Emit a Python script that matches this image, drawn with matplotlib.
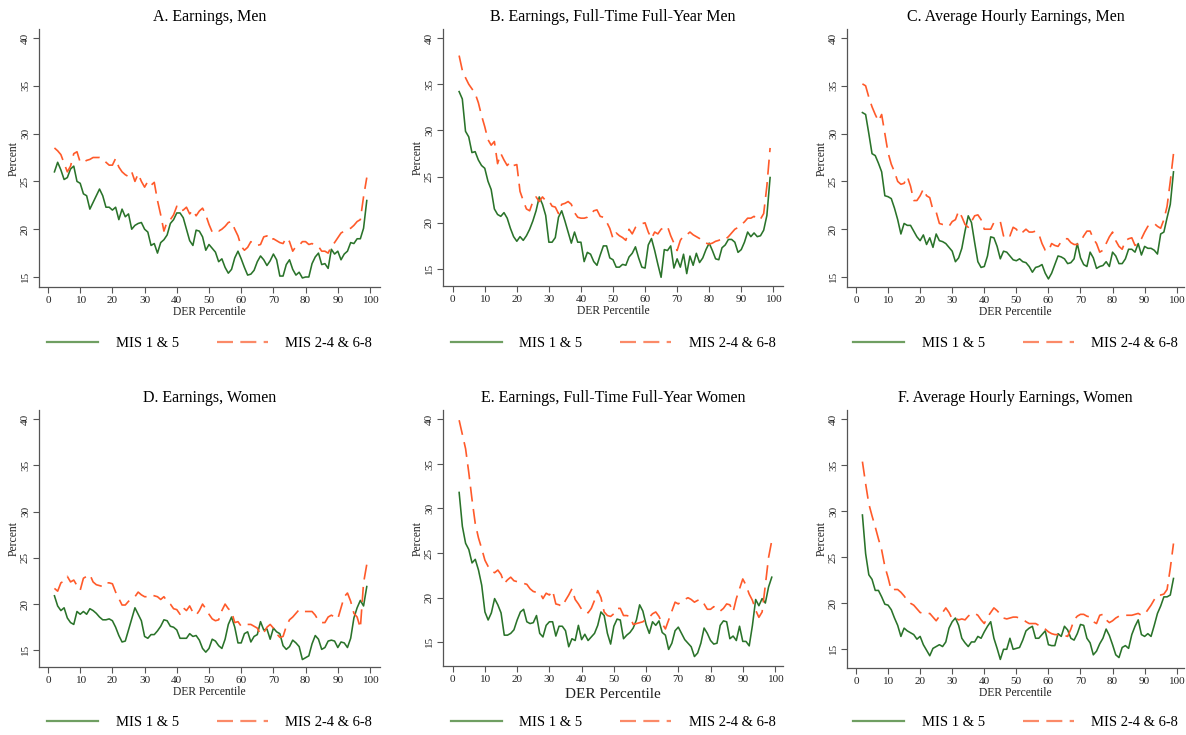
import numpy as np
import matplotlib
matplotlib.use('Agg')
import matplotlib.pyplot as plt
from matplotlib.lines import Line2D

plt.rcParams['font.family'] = ['Liberation Serif', 'DejaVu Serif']

pct = list(range(2, 100))

titles = ["A. Earnings, Men", "B. Earnings, Full-Time Full-Year Men",
          "C. Average Hourly Earnings, Men", "D. Earnings, Women",
          "E. Earnings, Full-Time Full-Year Women",
          "F. Average Hourly Earnings, Women"]
label_a = "MIS 1 & 5"
label_b = "MIS 2-4 & 6-8"
x_ticks = [0, 10, 20, 30, 40, 50, 60, 70, 80, 90, 100]
y_ticks = [15, 20, 25, 30, 35, 40]

a_mis15 = [26.0, 27.0, 26.2, 25.2, 25.4, 26.3, 26.6, 25.0,
           24.8, 23.7, 23.5, 22.1, 22.8, 23.5, 24.2, 23.5, 22.3, 22.3,
           22.0, 22.3, 21.0, 22.1, 21.3, 21.6, 20.0, 20.4, 20.6, 20.7,
           20.0, 19.7, 18.3, 18.5, 17.5, 18.6, 18.9, 19.4, 20.6, 21.0,
           21.7, 21.7, 21.2, 20.0, 18.8, 18.3, 19.9, 19.8, 19.2, 17.8,
           18.4, 18.0, 17.6, 16.6, 16.9, 16.0, 15.4, 15.8, 17.0, 17.7,
           16.9, 16.0, 15.2, 15.3, 15.7, 16.6, 17.2, 16.8, 16.2, 16.7,
           17.4, 16.8, 15.1, 15.1, 16.3, 16.8, 15.8, 15.2, 15.5, 14.9,
           15.0, 15.0, 16.4, 17.1, 17.5, 16.3, 16.4, 15.9, 17.9, 17.4,
           17.7, 16.8, 17.4, 17.7, 18.6, 18.5, 19.0, 19.0, 20.1, 23.0]
a_mis24 = [28.5, 28.2, 27.8, 26.9, 26.0, 26.6, 27.9, 28.1,
           27.0, 27.0, 27.2, 27.3, 27.5, 27.5, 27.5, 27.4, 27.0, 26.7,
           26.7, 27.4, 26.5, 26.0, 25.7, 25.5, 26.0, 25.0, 25.8, 25.0,
           24.4, 25.0, 24.6, 24.9, 23.0, 21.5, 19.8, 20.8, 21.0, 21.5,
           22.4, 21.9, 22.0, 22.3, 21.6, 22.0, 21.4, 21.9, 22.2, 21.5,
           20.5, 19.7, 19.9, 19.8, 20.0, 20.3, 20.7, 20.8, 20.0, 19.3,
           18.2, 17.8, 18.1, 18.7, 18.4, 18.3, 18.4, 19.2, 19.3, 18.8,
           19.0, 18.8, 18.6, 18.5, 19.1, 18.7, 17.7, 18.2, 18.3, 18.7,
           18.7, 18.4, 18.5, 18.3, 18.2, 17.7, 17.7, 17.5, 18.2, 18.6,
           19.1, 19.6, 19.8, 20.0, 20.1, 20.4, 20.8, 21.0, 23.4, 25.4]

b_mis15 = [34.2, 33.4, 29.9, 29.3, 27.6, 27.7, 26.8, 26.2,
           25.9, 24.5, 23.6, 21.5, 20.9, 20.7, 21.1, 20.5, 19.4, 18.5,
           18.0, 18.5, 18.1, 18.6, 19.3, 20.2, 21.3, 22.8, 22.0, 20.8,
           17.9, 17.9, 18.4, 20.6, 21.3, 20.2, 19.0, 17.8, 19.0, 17.9,
           17.9, 15.8, 16.8, 16.6, 15.8, 15.4, 16.5, 17.5, 17.5, 16.2,
           16.0, 15.2, 15.2, 15.5, 15.4, 16.3, 16.7, 17.4, 16.2, 15.2,
           15.1, 17.6, 18.3, 17.0, 15.5, 14.1, 17.1, 17.0, 17.5, 15.1,
           16.1, 15.2, 16.6, 14.5, 16.4, 15.4, 16.7, 15.7, 16.2, 17.1,
           17.8, 17.0, 16.1, 16.0, 17.3, 17.6, 18.2, 18.2, 17.9, 16.8,
           17.1, 17.9, 19.0, 18.5, 18.9, 18.5, 18.6, 19.2, 20.8, 24.9]
b_mis24 = [38.1, 36.5, 35.7, 35.0, 34.5, 34.0, 33.0, 31.6,
           30.4, 29.0, 28.4, 28.8, 26.4, 27.5, 26.8, 26.2, 26.6, 26.2,
           26.3, 23.4, 22.4, 21.5, 21.3, 22.3, 22.8, 22.3, 22.8, 22.4,
           22.4, 21.8, 21.7, 21.0, 22.0, 22.1, 22.3, 22.0, 21.1, 20.6,
           20.5, 20.5, 20.6, 20.9, 21.3, 21.4, 20.7, 20.6, 20.1, 19.4,
           18.3, 18.9, 18.6, 18.4, 18.1, 19.3, 18.8, 19.5, 19.7, 19.9,
           20.0, 19.0, 18.3, 19.0, 18.8, 19.3, 19.5, 19.6, 18.6, 17.8,
           17.0, 18.1, 18.6, 18.7, 19.0, 18.7, 18.5, 18.3, 18.0, 17.8,
           17.7, 17.8, 18.0, 18.1, 18.3, 18.2, 18.5, 18.9, 19.3, 19.5,
           19.8, 20.1, 20.5, 20.5, 20.7, 20.3, 20.4, 21.0, 24.0, 28.1]

c_mis15 = [32.2, 32.0, 30.0, 27.9, 27.7, 26.9, 26.0, 23.5,
           23.4, 23.2, 22.2, 21.0, 19.5, 20.6, 20.4, 20.4, 19.8, 19.2,
           18.8, 19.4, 18.4, 19.1, 18.1, 19.5, 18.8, 18.7, 18.5, 18.1,
           17.7, 16.6, 17.0, 18.0, 19.8, 21.4, 20.7, 18.6, 16.6, 16.0,
           16.1, 17.2, 19.2, 19.1, 18.2, 16.9, 17.7, 17.6, 17.2, 16.8,
           16.7, 16.9, 16.6, 16.5, 16.1, 15.5, 16.0, 16.1, 16.3, 15.4,
           14.8, 15.4, 16.3, 17.2, 17.1, 16.9, 16.4, 16.5, 16.9, 18.5,
           17.0, 16.3, 16.1, 17.6, 17.0, 15.9, 16.1, 16.2, 16.6, 16.1,
           17.6, 17.2, 16.4, 16.4, 16.9, 17.9, 17.9, 17.6, 18.5, 17.3,
           18.2, 18.0, 18.0, 17.8, 17.4, 19.5, 19.7, 21.2, 22.6, 26.0]
c_mis24 = [35.2, 35.0, 33.8, 32.8, 32.0, 31.3, 32.0, 30.0,
           28.0, 26.8, 26.0, 25.0, 24.7, 24.8, 25.5, 24.5, 23.0, 23.0,
           23.5, 24.2, 23.5, 23.3, 22.0, 21.8, 20.6, 20.5, 20.5, 20.3,
           20.8, 21.0, 21.9, 21.3, 20.5, 20.2, 20.8, 21.4, 21.5, 21.0,
           20.0, 20.0, 20.0, 20.7, 20.7, 20.8, 19.3, 19.6, 19.3, 20.2,
           20.0, 19.5, 19.7, 20.0, 19.7, 19.7, 19.8, 19.5, 18.5, 17.8,
           17.7, 18.5, 18.3, 18.2, 18.7, 19.0, 19.0, 18.6, 18.4, 18.4,
           18.7, 19.3, 19.8, 19.8, 19.0, 18.5, 17.6, 17.8, 18.5, 19.2,
           19.7, 18.8, 18.2, 17.9, 18.8, 19.0, 19.1, 18.3, 18.5, 19.0,
           19.7, 20.3, 20.5, 20.6, 20.3, 20.1, 21.0, 22.4, 25.0, 27.9]

d_mis15 = [20.9, 19.8, 19.3, 19.6, 18.5, 18.0, 17.8, 19.2,
           18.9, 19.2, 18.9, 19.5, 19.3, 19.0, 18.6, 18.3, 18.3, 18.4,
           18.2, 17.5, 16.6, 15.9, 16.0, 17.2, 18.4, 19.6, 18.9, 18.2,
           16.5, 16.3, 16.7, 16.7, 17.1, 17.6, 18.3, 18.2, 17.6, 17.5,
           17.2, 16.3, 16.3, 16.3, 16.8, 16.5, 16.6, 16.1, 15.2, 14.8,
           15.2, 16.2, 16.0, 15.5, 15.2, 16.2, 17.8, 18.6, 17.5, 15.8,
           15.8, 16.8, 17.0, 15.9, 16.5, 16.7, 18.1, 17.2, 17.3, 16.2,
           17.4, 17.0, 16.8, 15.5, 15.1, 15.4, 16.1, 15.8, 15.4, 14.0,
           14.2, 14.4, 15.7, 16.6, 16.2, 15.1, 15.3, 16.0, 16.1, 16.0,
           15.3, 15.9, 15.8, 15.3, 16.3, 18.5, 19.6, 20.4, 19.8, 21.9]
d_mis24 = [21.7, 21.4, 22.3, 22.5, 23.0, 22.4, 22.6, 22.0,
           21.5, 22.8, 23.0, 23.2, 22.4, 22.1, 22.0, 21.9, 22.3, 22.3,
           22.2, 21.3, 20.6, 19.9, 19.9, 20.3, 20.6, 20.8, 21.3, 21.0,
           20.8, 20.8, 21.0, 20.9, 20.8, 20.5, 20.8, 20.3, 20.0, 19.5,
           19.4, 18.9, 19.6, 19.3, 19.8, 19.1, 18.8, 19.3, 20.0, 19.5,
           18.9, 18.4, 18.2, 18.3, 19.3, 20.0, 19.5, 19.2, 18.0, 18.1,
           17.6, 17.7, 17.8, 17.8, 17.6, 17.4, 16.7, 16.9, 17.5, 17.8,
           17.4, 16.8, 16.4, 16.5, 17.6, 18.3, 18.6, 19.0, 19.4, 19.2,
           19.2, 19.2, 19.2, 18.8, 18.2, 18.0, 18.0, 18.6, 18.8, 18.6,
           18.4, 19.6, 20.8, 21.2, 20.3, 19.0, 18.6, 17.4, 22.3, 24.3]

e_mis15 = [31.8, 28.0, 26.1, 25.4, 23.9, 24.3, 23.1, 21.4,
           18.4, 17.5, 18.3, 19.9, 19.2, 18.3, 15.8, 15.8, 16.0, 16.4,
           17.5, 18.4, 18.7, 17.3, 17.1, 17.2, 18.0, 16.0, 15.6, 16.9,
           17.3, 17.3, 15.7, 16.8, 16.8, 16.3, 14.5, 15.4, 15.2, 16.9,
           15.3, 15.9, 15.2, 15.6, 16.0, 16.9, 18.4, 18.0, 16.0, 14.8,
           16.8, 17.6, 17.5, 15.4, 15.8, 16.1, 16.6, 17.5, 19.2, 18.5,
           17.0, 16.0, 17.3, 16.9, 17.4, 16.1, 15.8, 14.2, 14.9, 16.3,
           16.7, 16.0, 15.3, 14.9, 14.5, 13.4, 13.8, 14.9, 16.6, 16.0,
           15.2, 14.8, 14.9, 16.9, 17.4, 17.3, 15.4, 15.7, 15.2, 16.8,
           15.1, 15.1, 14.6, 16.9, 19.8, 19.1, 19.9, 19.4, 21.2, 22.3]
e_mis24 = [39.9, 38.3, 36.7, 34.0, 31.0, 28.3, 26.7, 25.5,
           24.2, 23.5, 23.0, 22.8, 23.1, 22.6, 21.6, 22.0, 22.3, 21.9,
           21.8, 21.7, 21.6, 21.5, 21.0, 20.7, 20.6, 20.6, 19.9, 20.5,
           20.3, 20.8, 19.3, 19.2, 19.0, 19.7, 20.3, 21.0, 19.8, 19.3,
           18.7, 18.7, 18.3, 18.8, 19.7, 20.8, 20.0, 18.4, 18.0, 17.9,
           18.2, 18.8, 18.8, 18.0, 18.0, 17.9, 17.0, 17.1, 17.2, 17.3,
           17.6, 17.8, 18.2, 18.4, 17.9, 17.1, 16.5, 17.5, 18.5, 19.5,
           19.3, 19.6, 19.8, 20.0, 19.8, 19.5, 19.7, 19.8, 19.3, 18.7,
           18.7, 19.0, 18.6, 18.5, 18.8, 19.3, 19.2, 18.4, 19.9, 21.0,
           22.1, 21.4, 20.4, 19.7, 18.6, 17.8, 18.4, 21.4, 24.5, 26.4]

f_mis15 = [29.6, 25.4, 23.1, 22.6, 21.4, 21.4, 20.7, 19.9,
           19.8, 19.3, 18.4, 17.6, 16.4, 17.3, 17.0, 16.8, 16.6, 16.1,
           16.4, 15.5, 14.9, 14.3, 15.1, 15.3, 15.5, 15.3, 15.8, 17.3,
           18.0, 18.4, 17.6, 16.2, 15.7, 15.3, 15.8, 15.8, 16.4, 16.2,
           16.9, 17.5, 18.0, 16.2, 15.1, 13.9, 15.0, 15.0, 16.2, 15.0,
           15.1, 15.2, 16.0, 17.0, 17.3, 17.5, 16.2, 16.2, 16.6, 17.0,
           15.5, 15.4, 15.4, 16.7, 16.4, 17.5, 17.1, 16.2, 16.0, 16.7,
           17.7, 17.6, 16.2, 15.7, 14.4, 14.8, 15.6, 16.2, 17.2, 16.5,
           15.5, 14.4, 14.1, 15.2, 15.4, 15.1, 16.6, 17.5, 18.2, 16.6,
           16.4, 16.7, 16.4, 17.6, 18.9, 19.7, 20.7, 20.7, 20.9, 22.7]
f_mis24 = [35.4, 33.0, 30.8, 29.5, 28.3, 27.0, 25.8, 24.0,
           22.8, 21.4, 21.5, 21.5, 21.2, 20.8, 20.3, 20.0, 19.8, 19.4,
           19.0, 18.9, 18.8, 18.9, 18.5, 18.1, 18.6, 19.0, 19.5, 19.0,
           18.3, 18.4, 18.2, 18.3, 18.2, 18.6, 18.9, 18.9, 18.7, 18.2,
           17.8, 18.5, 19.0, 19.5, 19.2, 18.8, 18.4, 18.3, 18.4, 18.5,
           18.5, 18.4, 18.3, 18.0, 17.8, 17.8, 17.8, 17.6, 17.5, 17.2,
           16.9, 16.7, 16.6, 16.6, 16.6, 16.5, 16.4, 17.2, 18.2, 18.6,
           18.8, 18.8, 18.6, 18.5, 18.0, 17.8, 18.7, 18.8, 18.2, 17.9,
           18.1, 18.4, 18.6, 18.7, 18.7, 18.7, 18.7, 18.8, 18.9, 18.7,
           18.8, 19.3, 19.8, 20.4, 20.9, 20.9, 21.0, 21.5, 23.8, 26.5]

series15 = [a_mis15, b_mis15, c_mis15, d_mis15, e_mis15, f_mis15]
series24 = [a_mis24, b_mis24, c_mis24, d_mis24, e_mis24, f_mis24]

GREEN = '#2a732a'
ORANGE = '#ff5a2a'
GREEN_LEG = '#6f9f62'
ORANGE_LEG = '#fb8a68'
SPINE = '#555555'

W, H = 1186, 735
fig = plt.figure(figsize=(W / 100, H / 100), dpi=100)

# pixel layout: left, right, top, bottom, px of x=0, px of x=100, px of y=40, px of y=15
layout = [
    (39, 380, 29, 287, 48, 370, 38, 277),
    (443, 783, 29, 286, 452.7, 773.3, 38, 269),
    (847, 1184, 29, 287, 856, 1176.7, 38, 277),
    (39, 380, 410, 667, 48, 370, 419.3, 650.3),
    (443, 783, 410, 666, 452.7, 775, 419.3, 642.3),
    (847, 1184, 410, 668, 856, 1176.7, 419.3, 649.3),
]
legend_y = [343, 343, 343, 722, 722, 722]

for i, (l, r, t, b, x0, x100, y40, y15) in enumerate(layout):
    ax = fig.add_axes([l / W, 1 - b / H, (r - l) / W, (b - t) / H])
    sx = (x100 - x0) / 100.0
    sy = (y15 - y40) / 25.0
    ax.set_xlim((l - x0) / sx, (r - x0) / sx)
    ax.set_ylim(15 - (b - y15) / sy, 40 + (y40 - t) / sy)
    ax.plot(pct, series15[i], color=GREEN, lw=1.15, solid_joinstyle='round')
    ax.plot(pct, series24[i], color=ORANGE, lw=1.2, linestyle=(0, (9, 4.5)))
    for s in ['top', 'right']:
        ax.spines[s].set_visible(False)
    for s in ['left', 'bottom']:
        ax.spines[s].set_color(SPINE)
        ax.spines[s].set_linewidth(0.9)
    ax.set_xticks(x_ticks)
    ax.set_yticks(y_ticks)
    ax.tick_params(axis='both', colors=SPINE, length=4, width=0.8,
                   labelsize=8.1, labelcolor='#222222', pad=2.5)
    for lab in ax.get_yticklabels():
        lab.set_rotation(90)
        lab.set_va('center')
    ax.set_title(titles[i], fontsize=11.5, pad=5.5)
    xl_size = 11 if i == 4 else 8.4
    ax.set_xlabel("DER Percentile", fontsize=xl_size, color='#222222')
    ax.xaxis.set_label_coords(0.5, -0.085 if i == 4 else -0.074)
    ax.set_ylabel("Percent", fontsize=8.4, color='#222222')
    ax.yaxis.set_label_coords(-0.058, 0.5)

    handles = [Line2D([], [], color=GREEN_LEG, lw=1.6),
               Line2D([], [], color=ORANGE_LEG, lw=1.6, linestyle=(0, (7.2, 3.3)))]
    cx = (l + r) / 2 / W
    fig.legend(handles, [label_a, label_b], loc='center',
               bbox_to_anchor=(cx, 1 - legend_y[i] / H), ncol=2, frameon=False,
               fontsize=10.5, handlelength=3.5, handletextpad=1.2,
               columnspacing=2.6)

fig.savefig('out.png', dpi=100, facecolor='white')
